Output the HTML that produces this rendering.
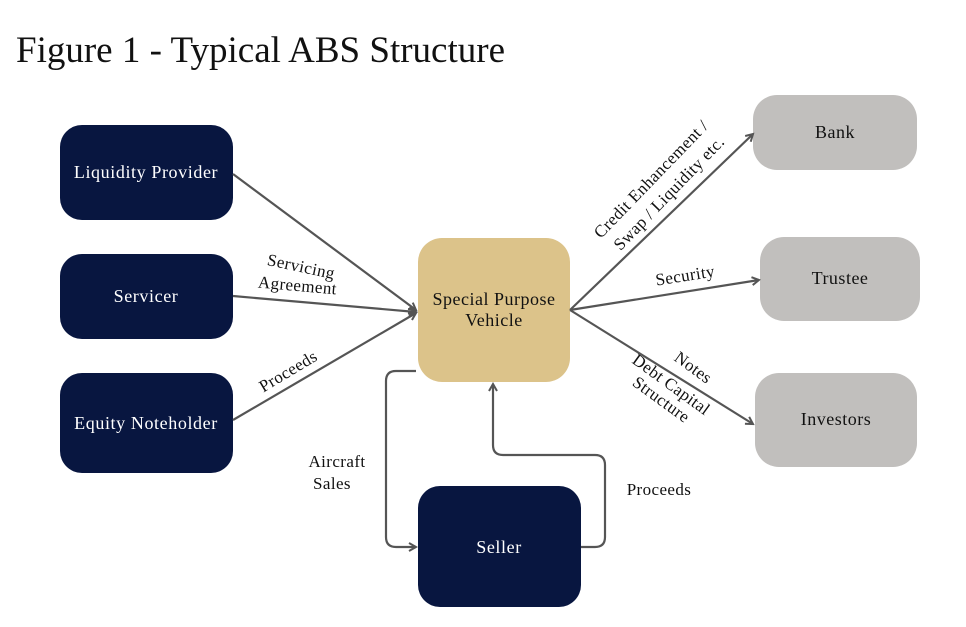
<!DOCTYPE html>
<html><head><style>body{margin:0;background:#fff}svg{display:block}</style></head><body>
<svg width="966" height="627" xmlns="http://www.w3.org/2000/svg" font-family="Liberation Serif, serif">
<defs><marker id="a" markerWidth="10" markerHeight="10" refX="8" refY="5" orient="auto" markerUnits="userSpaceOnUse"><path d="M1,1 L8,5 L1,9" fill="none" stroke="#555" stroke-width="2"/></marker></defs>
<text x="16" y="62" font-size="37" fill="#111">Figure 1 - Typical ABS Structure</text>
<g fill="#081640">
<rect x="60" y="125" width="173" height="95" rx="22"/>
<rect x="60" y="254" width="173" height="85" rx="22"/>
<rect x="60" y="373" width="173" height="100" rx="22"/>
<rect x="418" y="486" width="163" height="121" rx="22"/>
</g>
<rect x="418" y="238" width="152" height="144" rx="24" fill="#dcc38a"/>
<g fill="#c1bfbd">
<rect x="753" y="95" width="164" height="75" rx="24"/>
<rect x="760" y="237" width="160" height="84" rx="24"/>
<rect x="755" y="373" width="162" height="94" rx="24"/>
</g>
<g font-size="18" letter-spacing="0.6" text-anchor="middle" fill="#fff">
<text x="146" y="178">Liquidity Provider</text>
<text x="146" y="302">Servicer</text>
<text x="146" y="429">Equity Noteholder</text>
<text x="499" y="553">Seller</text>
</g>
<g font-size="18" letter-spacing="0.5" text-anchor="middle" fill="#111">
<text x="494" y="305">Special Purpose</text>
<text x="494" y="326">Vehicle</text>
<text x="835" y="138">Bank</text>
<text x="840" y="284">Trustee</text>
<text x="836" y="425">Investors</text>
</g>
<g stroke="#555" stroke-width="2.2" fill="none" marker-end="url(#a)">
<line x1="233" y1="174" x2="416" y2="310"/>
<line x1="233" y1="296" x2="416" y2="312"/>
<line x1="233" y1="420" x2="416" y2="313"/>
<line x1="570" y1="310" x2="753" y2="134"/>
<line x1="570" y1="310" x2="759" y2="280"/>
<line x1="570" y1="310" x2="753" y2="424"/>
<path d="M416,371 L396,371 Q386,371 386,381 L386,537 Q386,547 396,547 L416,547"/>
<path d="M581,547 L595,547 Q605,547 605,537 L605,465 Q605,455 595,455 L503,455 Q493,455 493,445 L493,384"/>
</g>
<g font-size="17" letter-spacing="0.4" fill="#111" text-anchor="middle">
<text transform="translate(300,272) rotate(12)">Servicing</text>
<text transform="translate(297,291) rotate(5)">Agreement</text>
<text transform="translate(291,376) rotate(-31)">Proceeds</text>
<text transform="translate(655,183) rotate(-46)">Credit Enhancement /</text>
<text transform="translate(673,197) rotate(-46)">Swap / Liquidity etc.</text>
<text transform="translate(686,281) rotate(-9)">Security</text>
<text transform="translate(690,372) rotate(36)">Notes</text>
<text transform="translate(668,389) rotate(36)">Debt Capital</text>
<text transform="translate(658,404) rotate(36)">Structure</text>
<text x="337" y="467">Aircraft</text>
<text x="332" y="489">Sales</text>
<text x="659" y="495">Proceeds</text>
</g>
</svg>
</body></html>
